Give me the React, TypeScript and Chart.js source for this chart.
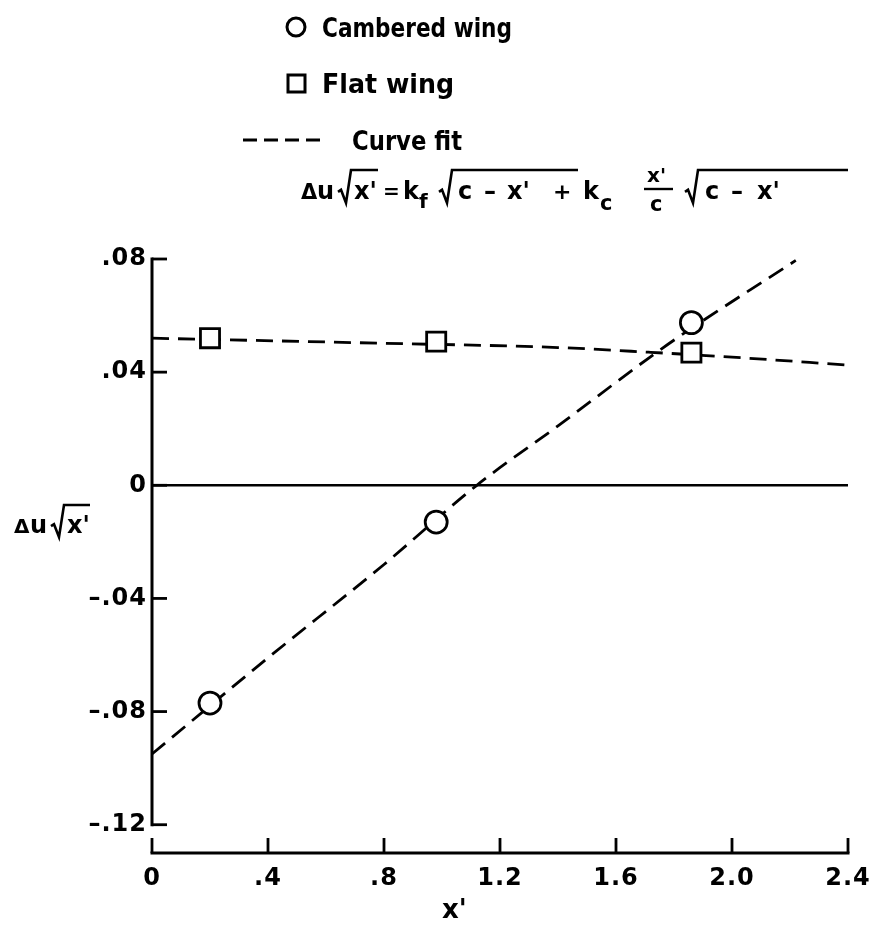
import React, { useEffect, useRef } from "react";
import { Chart, registerables } from "chart.js";

Chart.register(...registerables);

// Axis ticks
const xTicks = [0, 0.4, 0.8, 1.2, 1.6, 2.0, 2.4];
const yTicks = [-0.12, -0.08, -0.04, 0, 0.04, 0.08];

// Measured points
const camberedX = [0.2, 0.98, 1.86];
const camberedY = [-0.077, -0.013, 0.0575];
const flatX = [0.2, 0.98, 1.86];
const flatY = [0.052, 0.0508, 0.0469];

// Curve-fit lines
const camberedFitX = [0, 0.4, 0.8, 1.12, 1.4, 1.74, 1.86, 2.22];
const camberedFitY = [-0.095, -0.061, -0.028, 0, 0.021, 0.047, 0.0555, 0.0795];
const flatFitX = [0, 0.8, 1.4, 1.72, 2.0, 2.4];
const flatFitY = [0.052, 0.0502, 0.0487, 0.047, 0.0453, 0.0425];

const FONT = '"DejaVu Sans", sans-serif';
const INK = "#000";

const pairs = (xs: number[], ys: number[]) => xs.map((x, i) => ({ x, y: ys[i] }));

const fmtX = (v: number) => (v === 0 ? "0" : v < 1 ? "." + Math.round(v * 10) : v.toFixed(1));
const fmtY = (v: number) => {
  if (v === 0) return "0";
  const s = Math.abs(v).toFixed(2).replace(/^0/, "");
  return (v < 0 ? "\u2013" : "") + s;
};

// Text at a given size, optionally squeezed or stretched to a width
function text(
  ctx: CanvasRenderingContext2D,
  s: string,
  x: number,
  y: number,
  size: number,
  width?: number,
  weight = "bold"
) {
  ctx.save();
  ctx.font = `${weight} ${size}px ${FONT}`;
  ctx.textAlign = "left";
  ctx.textBaseline = "alphabetic";
  ctx.fillStyle = INK;
  const w = ctx.measureText(s).width;
  ctx.translate(x, y);
  if (width) ctx.scale(width / w, 1);
  ctx.fillText(s, 0, 0);
  ctx.restore();
}

function radical(ctx: CanvasRenderingContext2D, x: number, yTop: number, yBottom: number, barEnd: number) {
  const yMid = yBottom - (yBottom - yTop) * 0.4;
  ctx.save();
  ctx.strokeStyle = INK;
  ctx.lineWidth = 2.6;
  ctx.lineJoin = "miter";
  ctx.beginPath();
  ctx.moveTo(x - 3, yMid + 2);
  ctx.lineTo(x, yMid);
  ctx.lineTo(x + 5, yBottom);
  ctx.lineTo(x + 10, yTop);
  ctx.lineTo(barEnd, yTop);
  ctx.stroke();
  ctx.restore();
}

const framePlugin = {
  id: "frame",
  beforeDraw(chart: any) {
    chart.ctx.letterSpacing = "1px";
  },
  beforeDatasetsDraw(chart: any) {
    const ctx: CanvasRenderingContext2D = chart.ctx;
    const xs = chart.scales.x;
    const ys = chart.scales.y;
    const left = xs.getPixelForValue(0);
    const right = xs.getPixelForValue(2.4);
    const bottom = chart.chartArea.bottom;
    ctx.save();
    ctx.letterSpacing = "0px";
    ctx.strokeStyle = INK;
    ctx.lineCap = "butt";
    // vertical axis with inward ticks
    ctx.lineWidth = 3;
    ctx.beginPath();
    ctx.moveTo(left, ys.getPixelForValue(0.08) - 1.5);
    ctx.lineTo(left, ys.getPixelForValue(-0.12) + 1.5);
    ctx.stroke();
    ctx.lineWidth = 2.8;
    for (const v of yTicks) {
      const py = ys.getPixelForValue(v);
      ctx.beginPath();
      ctx.moveTo(left, py);
      ctx.lineTo(left + 15, py);
      ctx.stroke();
    }
    // horizontal axis with upward ticks
    ctx.lineWidth = 3;
    ctx.beginPath();
    ctx.moveTo(left - 1.5, bottom);
    ctx.lineTo(right + 1.5, bottom);
    ctx.stroke();
    ctx.lineWidth = 2.8;
    for (const v of xTicks) {
      const px = xs.getPixelForValue(v);
      ctx.beginPath();
      ctx.moveTo(px, bottom);
      ctx.lineTo(px, bottom - 15);
      ctx.stroke();
    }
    // zero line
    ctx.lineWidth = 2.6;
    ctx.beginPath();
    ctx.moveTo(left, ys.getPixelForValue(0));
    ctx.lineTo(right, ys.getPixelForValue(0));
    ctx.stroke();
    ctx.restore();
  },
  afterDraw(chart: any) {
    const ctx: CanvasRenderingContext2D = chart.ctx;
    ctx.letterSpacing = "0px";
    ctx.save();
    ctx.strokeStyle = INK;
    ctx.fillStyle = INK;

    // legend: circle
    ctx.lineWidth = 3;
    ctx.beginPath();
    ctx.arc(296, 27, 9, 0, Math.PI * 2);
    ctx.stroke();
    text(ctx, "Cambered wing", 322, 37, 27, 190, "600");

    // legend: square
    ctx.strokeRect(288, 75, 17, 17);
    text(ctx, "Flat wing", 322, 93, 27, 132, "600");

    // legend: dashed line
    ctx.save();
    ctx.lineWidth = 3;
    ctx.setLineDash([14, 7]);
    ctx.beginPath();
    ctx.moveTo(243, 140);
    ctx.lineTo(320, 140);
    ctx.stroke();
    ctx.restore();
    text(ctx, "Curve fit", 352, 150, 27, 110, "600");

    // curve-fit formula
    const b = 199;
    text(ctx, "\u0394", 301, b, 21);
    text(ctx, "u", 317, b, 24);
    radical(ctx, 341, 170, b + 4, 378);
    text(ctx, "x'", 354, b, 24);
    text(ctx, "=", 383, b - 1, 20);
    text(ctx, "k", 403, b, 24);
    text(ctx, "f", 419, b + 9, 20);
    radical(ctx, 442, 170, b + 4, 578);
    text(ctx, "c", 458, b, 24);
    text(ctx, "\u2013", 484, b, 24);
    text(ctx, "x'", 507, b, 24);
    text(ctx, "+", 553, b, 22);
    text(ctx, "k", 583, b, 24);
    text(ctx, "c", 600, b + 11, 21);
    text(ctx, "x'", 647, 182, 20);
    ctx.lineWidth = 2.4;
    ctx.beginPath();
    ctx.moveTo(644, 189);
    ctx.lineTo(673, 189);
    ctx.stroke();
    text(ctx, "c", 650, 211, 21);
    radical(ctx, 688, 170, b + 4, 848);
    text(ctx, "c", 705, b, 24);
    text(ctx, "\u2013", 731, b, 24);
    text(ctx, "x'", 757, b, 24);

    // vertical-axis title
    const tb = 533;
    text(ctx, "\u0394", 14, tb, 20);
    text(ctx, "u", 30, tb, 24);
    radical(ctx, 54, 505, tb + 4, 90);
    text(ctx, "x'", 67, tb, 24);

    // horizontal-axis title
    text(ctx, "x'", 442, 918, 26);
    ctx.restore();
  },
};

export default function App() {
  const ref = useRef<HTMLCanvasElement>(null);

  useEffect(() => {
    const canvas = ref.current!;
    const tickFont = { family: FONT, size: 24, weight: "bold" as const };
    const chart = new Chart(canvas, {
      type: "line",
      data: {
        datasets: [
          {
            label: "Cambered wing",
            data: pairs(camberedX, camberedY),
            showLine: false,
            pointStyle: "circle",
            pointRadius: 11,
            pointBorderWidth: 2.8,
            pointBackgroundColor: "#fff",
            pointBorderColor: INK,
            order: 0,
          },
          {
            label: "Flat wing",
            data: pairs(flatX, flatY),
            showLine: false,
            pointStyle: "rect",
            pointRadius: 13.5,
            pointBorderWidth: 2.8,
            pointBackgroundColor: "#fff",
            pointBorderColor: INK,
            order: 0,
          },
          {
            label: "Curve fit, cambered",
            data: pairs(camberedFitX, camberedFitY),
            borderColor: INK,
            borderWidth: 2.8,
            borderDash: [17, 9],
            pointRadius: 0,
            cubicInterpolationMode: "monotone",
            fill: false,
            order: 1,
          },
          {
            label: "Curve fit, flat",
            data: pairs(flatFitX, flatFitY),
            borderColor: INK,
            borderWidth: 2.8,
            borderDash: [17, 9],
            pointRadius: 0,
            cubicInterpolationMode: "monotone",
            fill: false,
            order: 1,
          },
        ],
      },
      options: {
        responsive: false,
        animation: false,
        devicePixelRatio: 1,
        layout: { padding: { top: 259, right: 25, left: 0, bottom: 0 } },
        plugins: { legend: { display: false }, tooltip: { enabled: false } },
        scales: {
          x: {
            type: "linear",
            min: 0,
            max: 2.4,
            afterBuildTicks: (s: any) => {
              s.ticks = xTicks.map((value) => ({ value }));
            },
            afterFit: (s: any) => {
              s.height = 73;
              s.paddingLeft = 0;
              s.paddingRight = 0;
            },
            grid: { display: false, drawTicks: false },
            border: { display: false },
            ticks: {
              font: tickFont,
              color: INK,
              padding: 11,
              maxRotation: 0,
              autoSkip: false,
              callback: (v: any) => fmtX(Number(v)),
            },
          },
          y: {
            type: "linear",
            min: -0.13,
            max: 0.08,
            afterBuildTicks: (s: any) => {
              s.ticks = yTicks.map((value) => ({ value }));
            },
            afterFit: (s: any) => {
              s.width = 152;
              s.paddingTop = 0;
              s.paddingBottom = 0;
            },
            grid: { display: false, drawTicks: false },
            border: { display: false },
            ticks: {
              font: tickFont,
              color: INK,
              padding: 5,
              autoSkip: false,
              callback: (v: any) => fmtY(Number(v)),
            },
          },
        },
      },
      plugins: [framePlugin],
    } as any);
    return () => chart.destroy();
  }, []);

  return (
    <div style={{ position: "absolute", left: 0, top: 0, width: 873, height: 926, background: "#fff" }}>
      <canvas ref={ref} width={873} height={926} style={{ display: "block", width: 873, height: 926 }} />
    </div>
  );
}
